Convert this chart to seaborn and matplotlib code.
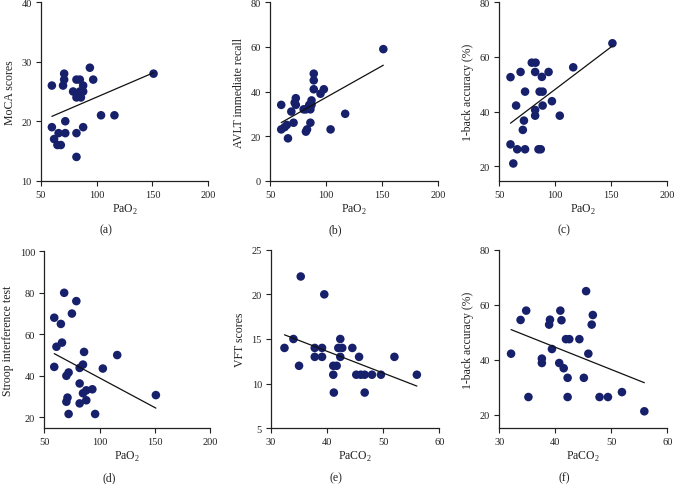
import numpy as np
import pandas as pd
import matplotlib
matplotlib.use("Agg")
import matplotlib.pyplot as plt
import seaborn as sns

# ---------------- data ----------------
# (a) MoCA scores vs PaO2
a_x = [60, 60, 62, 66, 65, 68, 71, 71, 70, 72, 72, 79, 82, 82, 82, 85, 82, 86, 85, 88, 88, 88, 94, 97, 104, 116, 151]
a_y = [26, 19, 17, 18, 16, 16, 28, 27, 26, 20, 18, 25, 27, 18, 14, 27, 24, 24, 25, 26, 25, 19, 29, 27, 21, 21, 28]
# (b) AVLT immediate recall vs PaO2
b_x = [60, 60, 63, 65, 66, 69, 71, 72, 73, 73, 80, 82, 83, 82, 85, 86, 86, 87, 87, 89, 89, 89, 95, 98, 104, 117, 151]
b_y = [34, 23, 24, 25, 19, 31, 26, 35, 37, 34, 32, 32, 23, 22, 34, 26, 32, 36, 34, 48, 45, 41, 39, 41, 23, 30, 59]
# (c) 1-back accuracy (%) vs PaO2
c_x = [60, 60, 62.5, 65, 66, 69, 71, 72, 73, 73, 79, 82.4, 82, 82, 82, 86, 85, 87, 88, 88.7, 88.7, 94, 97, 104, 116, 151]
c_y = [52.6, 28, 21, 42.2, 26.2, 54.5, 33.3, 36.7, 47.3, 26.2, 57.9, 57.9, 54.5, 40.6, 38.5, 47.3, 26.2, 26.2, 52.7, 47.3, 42.2, 54.5, 43.8, 38.5, 56.2, 65]
# (d) Stroop interference test vs PaO2
d_x = [68, 79, 75, 59, 65, 66, 61, 86, 116, 59, 85, 82, 103, 72, 70, 82, 93.5, 88, 85, 71, 70, 88, 82, 72, 96, 151]
d_y = [80, 76, 70, 68, 65, 56, 54, 51.5, 50, 44.3, 45.4, 43.8, 43.5, 41.6, 40, 36.3, 33.5, 33, 31.6, 29.5, 27.5, 28.2, 26.7, 21.6, 21.6, 30.7]
# (e) VFT scores vs PaCO2
e_x = [32.4, 34, 35, 35.3, 37.8, 37.8, 39.1, 39.1, 39.5, 41.1, 41.7, 41.1, 41.2, 42.35, 42, 42.7, 42.35, 44.5, 45.7, 45.2, 46, 46.7, 46.7, 48, 49.6, 52, 56]
e_y = [14, 15, 12, 22, 14, 13, 14, 13, 20, 12, 12, 11, 9, 15, 14, 14, 13, 14, 13, 11, 11, 11, 9, 11, 11, 13, 11]
# (f) 1-back accuracy (%) vs PaCO2
f_x = [45.5, 34.8, 40.9, 33.8, 39.05, 41.1, 38.9, 46.7, 46.5, 41.9, 42.5, 44.3, 39.4, 32.1, 45.9, 37.6, 37.6, 40.7, 41.5, 42.2, 45.1, 35.2, 42.2, 47.9, 49.4, 51.9, 55.9]
f_y = [65, 57.9, 57.9, 54.5, 54.6, 54.4, 52.8, 56.3, 52.8, 47.5, 47.5, 47.5, 43.9, 42.2, 42.2, 40.4, 38.8, 38.8, 36.9, 33.4, 33.4, 26.4, 26.4, 26.4, 26.4, 28.2, 21.2]

panels = [
    ("(a)", a_x, a_y, r"PaO$_\mathregular{2}$", "MoCA scores"),
    ("(b)", b_x, b_y, r"PaO$_\mathregular{2}$", "AVLT immediate recall"),
    ("(c)", c_x, c_y, r"PaO$_\mathregular{2}$", "1-back accuracy (%)"),
    ("(d)", d_x, d_y, r"PaO$_\mathregular{2}$", "Stroop interference test"),
    ("(e)", e_x, e_y, r"PaCO$_\mathregular{2}$", "VFT scores"),
    ("(f)", f_x, f_y, r"PaCO$_\mathregular{2}$", "1-back accuracy (%)"),
]

# ---------------- style ----------------
sns.set_style("ticks")
plt.rcParams["font.family"] = ["Liberation Serif", "DejaVu Serif"]
plt.rcParams["mathtext.fontset"] = "custom"
plt.rcParams["mathtext.rm"] = "Liberation Serif"
plt.rcParams["axes.edgecolor"] = "#222222"
plt.rcParams["axes.linewidth"] = 0.9

W, H = 676, 485
fig = plt.figure(figsize=(W / 100, H / 100), dpi=100)

# pixel boxes: left, right, top, bottom
boxes = [
    (40.7, 208.3, 3.3, 181.7),
    (270.0, 438.3, 3.3, 181.7),
    (499.3, 667.3, 3.3, 181.7),
    (44.3, 210.0, 252.3, 429.3),
    (271.0, 439.3, 250.7, 429.3),
    (499.3, 667.3, 251.0, 429.3),
]
xlims = [(50, 200)] * 4 + [(30, 60)] * 2
xticks = [[50, 100, 150, 200]] * 4 + [[30, 40, 50, 60]] * 2
ylims = [(10, 40), (0, 80), (14.7, 80), (14.7, 100), (5, 25), (15, 80)]
yticks = [[10, 20, 30, 40], [0, 20, 40, 60, 80], [20, 40, 60, 80],
          [20, 40, 60, 80, 100], [5, 10, 15, 20, 25], [20, 40, 60, 80]]

dot = "#17206b"
for i, (tag, xs, ys, xl, yl) in enumerate(panels):
    l, r, t, b = boxes[i]
    ax = fig.add_axes([l / W, 1 - b / H, (r - l) / W, (b - t) / H])
    df = pd.DataFrame({"x": xs, "y": ys})
    sns.regplot(data=df, x="x", y="y", ax=ax, ci=None, truncate=True,
                scatter_kws=dict(s=38, color=dot, edgecolor="none", alpha=1, zorder=3),
                line_kws=dict(color="#111111", lw=0.9, zorder=4))
    ax.set_xlim(*xlims[i])
    ax.set_ylim(*ylims[i])
    ax.set_xticks(xticks[i])
    ax.set_yticks(yticks[i])
    sns.despine(ax=ax)
    ax.tick_params(direction="out", length=3.5, width=0.8, labelsize=7.5,
                   colors="#222222", pad=3)
    ax.set_xlabel(xl, fontsize=8.5, color="#222222", labelpad=2)
    ax.set_ylabel(yl, fontsize=8.5, color="#222222", labelpad=4)
    ax.patch.set_alpha(0)
    for sp in ax.spines.values():
        sp.set_clip_on(False)
    ly = 230 if i < 3 else 478
    fig.text((l + 65) / W, 1 - ly / H, tag, ha="center", va="center",
             fontsize=8.5, color="#222222")

fig.savefig("out.png", dpi=100)
